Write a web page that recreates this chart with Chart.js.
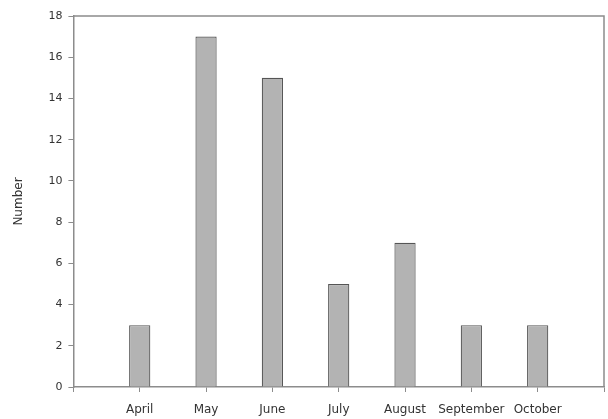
<!DOCTYPE html>
<html>
<head>
<meta charset="utf-8">
<script src="https://cdn.jsdelivr.net/npm/chart.js@4"></script>
<style>
  html, body { margin: 0; padding: 0; background: #fff; }
  canvas { display: block; }
</style>
</head>
<body>
<canvas id="chart" width="608" height="419"></canvas>
<script>
// Chart data
const months = ["April", "May", "June", "July", "August", "September", "October"];
const counts = [3, 17, 15, 5, 7, 3, 3];
const yMin = 0;
const yMax = 18;
const yStep = 2;

// empty slot on each side so the bars sit one step away from the frame
const labels = [""].concat(months, [""]);
const values = [null].concat(counts, [null]);

const frameColor = "#8c8c8c";

// draw the top and right sides of the box around the plot
const framePlugin = {
  id: "frame",
  afterDatasetsDraw(chart) {
    const { ctx, chartArea } = chart;
    ctx.save();
    ctx.strokeStyle = frameColor;
    ctx.lineWidth = 1.5;
    ctx.beginPath();
    ctx.moveTo(chartArea.left, chartArea.top);
    ctx.lineTo(chartArea.right, chartArea.top);
    ctx.lineTo(chartArea.right, chartArea.bottom);
    ctx.stroke();
    ctx.restore();
  },
};

const ctx = document.getElementById("chart").getContext("2d");
const chart = new Chart(ctx, {
  type: "bar",
  data: {
    labels: labels,
    datasets: [
      {
        label: "Number",
        data: values,
        backgroundColor: "#b3b3b3",
        borderColor: "#555555",
        borderWidth: 1.2,
        categoryPercentage: 1,
        barPercentage: 0.32,
      },
    ],
  },
  options: {
    responsive: false,
    animation: false,
    layout: {
      padding: { top: 16, right: 4, bottom: -9, left: 12 },
    },
    plugins: {
      legend: { display: false },
      tooltip: { enabled: false },
    },
    scales: {
      x: {
        offset: false,
        grid: {
          offset: false,
          drawOnChartArea: false,
          drawTicks: true,
          tickLength: 5,
          color: frameColor,
        },
        border: { color: frameColor, width: 1.5 },
        ticks: {
          color: "#333",
          padding: 4,
          maxRotation: 0,
          autoSkip: false,
          // tall line box pushes the month names further below the axis
          font: { family: "DejaVu Sans", size: 12, lineHeight: "28px" },
        },
      },
      y: {
        min: yMin,
        max: yMax,
        grid: {
          drawOnChartArea: false,
          drawTicks: true,
          tickLength: 5,
          color: frameColor,
        },
        border: { color: frameColor, width: 1.5 },
        ticks: {
          stepSize: yStep,
          color: "#333",
          padding: 6,
          font: { family: "DejaVu Sans", size: 11 },
        },
        title: {
          display: true,
          text: "Number",
          color: "#333",
          padding: { top: 0, bottom: 16 },
          font: { family: "DejaVu Sans", size: 12 },
        },
      },
    },
  },
  plugins: [framePlugin],
});
</script>
</body>
</html>
